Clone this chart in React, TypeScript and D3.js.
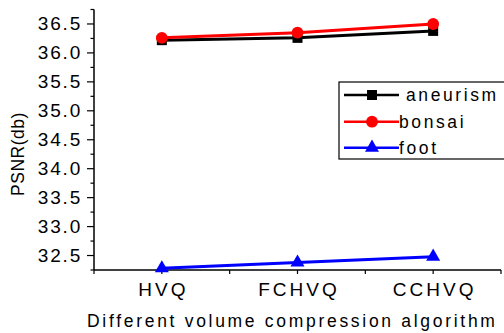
import { useRef, useEffect } from "react";
import * as d3 from "d3";

// chart data
const categories = ["HVQ", "FCHVQ", "CCHVQ"];
const aneurism = [36.22, 36.26, 36.38];
const bonsai = [36.26, 36.35, 36.5];
const foot = [32.28, 32.38, 32.48];
const yTicks = [32.5, 33.0, 33.5, 34.0, 34.5, 35.0, 35.5, 36.0, 36.5];

const series = [
  { name: "aneurism", values: aneurism, color: "#000000", symbol: d3.symbolSquare, size: 100 },
  { name: "bonsai", values: bonsai, color: "#ff0000", symbol: d3.symbolCircle, size: 110 },
  { name: "foot", values: foot, color: "#0000ff", symbol: d3.symbolTriangle, size: 85 },
];

export default function App() {
  const ref = useRef<SVGSVGElement>(null);

  useEffect(() => {
    const svg = d3.select(ref.current);
    svg.selectAll("*").remove();

    const font = "'Liberation Sans', Arial, sans-serif";

    // x is a linear index scale so half-step minor ticks can be placed
    const x = d3.scaleLinear().domain([0.5, 3.5]).range([94, 501]);
    const y = d3.scaleLinear().domain([32.25, 36.75]).range([270, 9.5]);

    const g = svg.append("g");

    // axis lines
    g.append("line")
      .attr("x1", 94).attr("x2", 94)
      .attr("y1", y(36.75)).attr("y2", y(32.25))
      .attr("stroke", "#000").attr("stroke-width", 1.5);
    g.append("line")
      .attr("x1", x(0.5)).attr("x2", x(3.5))
      .attr("y1", 270).attr("y2", 270)
      .attr("stroke", "#000").attr("stroke-width", 1.5);

    // y ticks: major + minor
    d3.range(32.25, 36.76, 0.25).forEach((v) => {
      const major = yTicks.some((t) => Math.abs(t - v) < 1e-6);
      g.append("line")
        .attr("x1", 94 - (major ? 7 : 3.5)).attr("x2", 94)
        .attr("y1", y(v)).attr("y2", y(v))
        .attr("stroke", "#000").attr("stroke-width", 1.2);
    });
    yTicks.forEach((t) => {
      g.append("text")
        .attr("x", 82)
        .attr("y", y(t))
        .attr("text-anchor", "end")
        .attr("dominant-baseline", "central")
        .attr("font-family", font)
        .attr("font-size", 19)
        .attr("letter-spacing", 1.8)
        .text(t.toFixed(1));
    });

    // x ticks
    d3.range(0.5, 3.51, 0.5).forEach((v) => {
      g.append("line")
        .attr("x1", x(v)).attr("x2", x(v))
        .attr("y1", 270).attr("y2", 274)
        .attr("stroke", "#000").attr("stroke-width", 1.2);
    });
    categories.forEach((c, i) => {
      g.append("text")
        .attr("x", x(i + 1) + 1.5)
        .attr("y", 296)
        .attr("text-anchor", "middle")
        .attr("font-family", font)
        .attr("font-size", 19)
        .attr("letter-spacing", 3)
        .text(c);
    });

    // axis titles
    g.append("text")
      .attr("x", 87)
      .attr("y", 327)
      .attr("font-family", font)
      .attr("font-size", 17.5)
      .attr("letter-spacing", 2.7)
      .text("Different volume compression algorithm");
    g.append("text")
      .attr("transform", "translate(24,154) rotate(-90)")
      .attr("text-anchor", "middle")
      .attr("font-family", font)
      .attr("font-size", 17.5)
      .attr("letter-spacing", 0.5)
      .text("PSNR(db)");

    // series lines and markers
    const line = d3
      .line<number>()
      .x((d, i) => x(i + 1))
      .y((d) => y(d));

    series.forEach((s) => {
      g.append("path")
        .datum(s.values)
        .attr("d", line)
        .attr("fill", "none")
        .attr("stroke", s.color)
        .attr("stroke-width", 3);
      s.values.forEach((v, i) => {
        g.append("path")
          .attr("d", d3.symbol().type(s.symbol).size(s.size)())
          .attr("transform", `translate(${x(i + 1)},${y(v)})`)
          .attr("fill", s.color);
      });
    });

    // legend
    const lg = g.append("g");
    lg.append("rect")
      .attr("x", 339).attr("y", 82)
      .attr("width", 180).attr("height", 77)
      .attr("fill", "#fff")
      .attr("stroke", "#000").attr("stroke-width", 1.2);
    const rows = [95, 121.7, 147.7];
    series.forEach((s, i) => {
      const ry = rows[i];
      lg.append("line")
        .attr("x1", 344).attr("x2", 399)
        .attr("y1", ry).attr("y2", ry)
        .attr("stroke", s.color).attr("stroke-width", 2.5);
      lg.append("path")
        .attr("d", d3.symbol().type(s.symbol).size(s.size)())
        .attr("transform", `translate(372,${ry})`)
        .attr("fill", s.color);
      lg.append("text")
        .attr("x", i === 0 ? 406 : 399)
        .attr("y", ry)
        .attr("dominant-baseline", "central")
        .attr("font-family", font)
        .attr("font-size", 17.5)
        .attr("letter-spacing", 2.6)
        .text(s.name);
    });
  }, []);

  return (
    <svg
      ref={ref}
      width={504}
      height={333}
      style={{ position: "absolute", left: 0, top: 0, background: "#fff" }}
    ></svg>
  );
}
